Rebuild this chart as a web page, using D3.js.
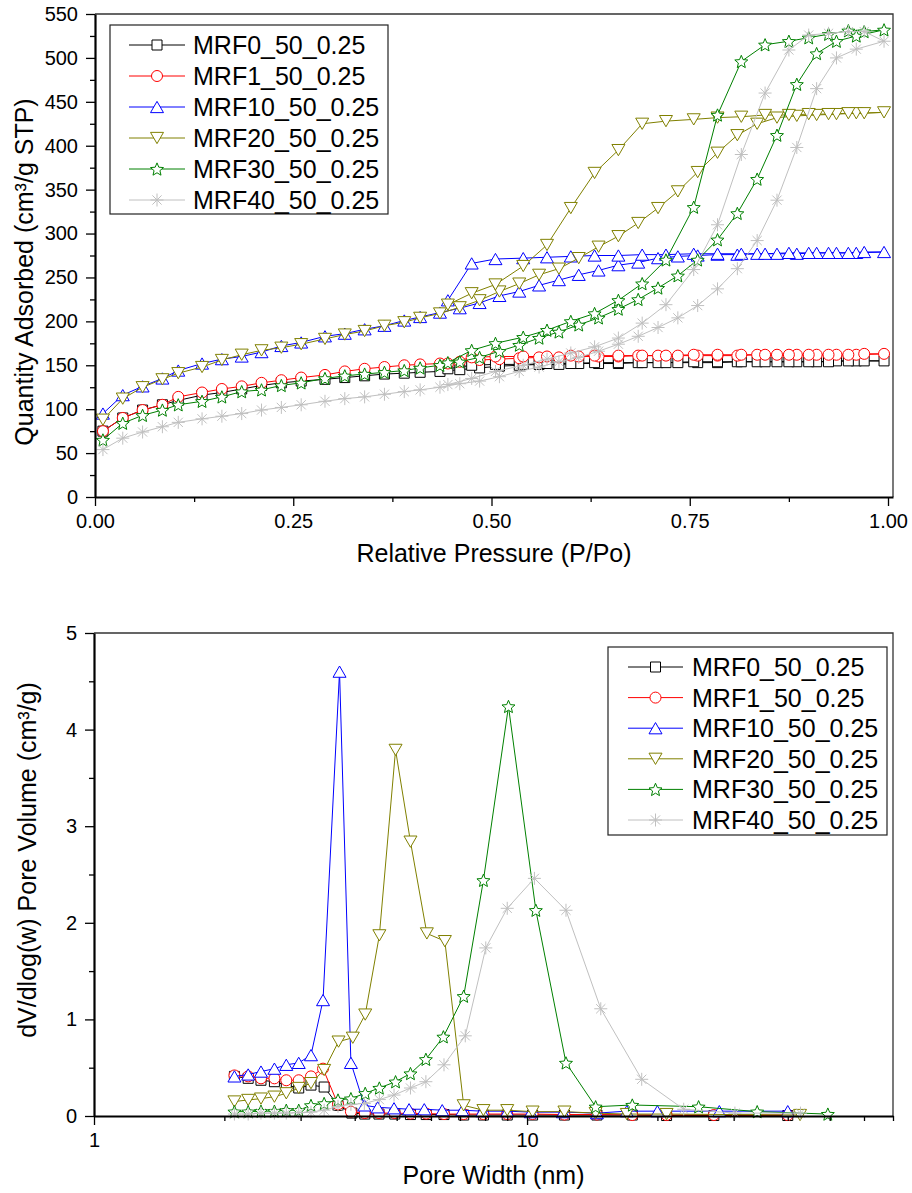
<!DOCTYPE html>
<html><head><meta charset="utf-8">
<script src="https://cdn.jsdelivr.net/npm/d3@7"></script>
<style>
body{margin:0;background:#fff}
svg{display:block}
text{font-family:"Liberation Sans",Arial,Helvetica,sans-serif;fill:#000}
</style>
</head><body>
<svg id="chart" width="912" height="1193"></svg>
<script>
// ---------- shared series info ----------
const seriesNames = ["MRF0_50_0.25","MRF1_50_0.25","MRF10_50_0.25","MRF20_50_0.25","MRF30_50_0.25","MRF40_50_0.25"];
const seriesColors = ["#000000","#ff0000","#0000ff","#808000","#008000","#c0c0c0"];
const seriesMarkers = ["square","circle","triangle","triangleDown","star","asterisk"];

// ---------- isotherm data (relative pressure, quantity adsorbed) ----------
const adsP = [0.01,0.035,0.06,0.085,0.105,0.135,0.16,0.185,0.21,0.235,0.26,0.29,0.315,0.34,0.365,0.39,0.41,0.435,0.46,0.485,0.51,0.535,0.56,0.585,0.61,0.635,0.66,0.685,0.71,0.735,0.76,0.785,0.81,0.835,0.86,0.885,0.91,0.935,0.96,0.995];
const desP = [0.97,0.95,0.925,0.90,0.875,0.845,0.815,0.785,0.755,0.72,0.69,0.66,0.63,0.60,0.57,0.54,0.505,0.475,0.445];

const mrf0Ads = [75,90,99,105,110,116,119,123,127,130,132,134,136,138,140,141,142,143,145,147,149,150,151,151,152,152,152,153,153,153,153,153,154,154,154,154,154,155,155,155];
const mrf0Des = [155,155,154,154,154,154,154,154,154,153,153,153,153,152,152,151,151,150,146];
const mrf1Ads = [75,90,99,105,114,119,123,126,130,133,136,139,143,146,148,150,151,152,154,156,157,158,159,159,160,160,160,161,161,161,161,161,161,162,162,162,162,162,162,163];
const mrf1Des = [163,162,162,162,162,162,162,162,162,161,161,161,161,161,160,160,160,159,152];
const mrf10Ads = [95,116,126,135,144,152,157,160,165,172,176,183,186,191,195,201,205,210,215,221,229,234,241,247,253,258,264,267,272,274,275,276,276,277,277,277,278,278,278,279];
const mrf10Des = [279,278,278,278,278,277,277,277,277,276,276,275,275,274,273,272,271,266,224];
const mrf20Ads = [88,112,125,134,141,148,156,162,167,170,174,180,185,189,195,199,204,209,216,224,234,243,253,260,272,285,297,312,329,348,370,392,412,425,432,434,435,436,437,438];
const mrf20Des = [437,437,436,436,435,435,433,432,430,428,425,395,369,329,287,263,242,232,219];
const mrf30Ads = [65,84,93,99,105,109,114,120,122,127,130,135,138,140,142,144,147,150,154,159,166,173,181,188,196,204,214,225,238,252,270,293,323,362,412,470,505,519,525,532];
const mrf30Des = [530,531,527,523,519,515,496,435,330,270,243,224,209,200,190,182,175,167,153];
const mrf40Ads = [54,67,74,80,85,89,92,95,99,102,105,109,112,114,117,120,122,125,129,132,137,143,148,154,159,166,174,183,193,204,218,237,260,292,338,398,465,500,510,519];
const mrf40Des = [530,530,528,526,509,460,390,310,259,219,198,181,171,164,157,150,143,135,128];

const isoXTicks = [0, 0.25, 0.5, 0.75, 1.0];
const isoXMinor = [0.125, 0.375, 0.625, 0.875];
const isoYTicks = [0,50,100,150,200,250,300,350,400,450,500,550];
const isoYMinor = [25,75,125,175,225,275,325,375,425,475,525];

// ---------- pore size distribution data (pore width nm, dV/dlog(w)) ----------
const psdW0 = [2.11,2.27,2.43,2.61,2.78,2.97,3.17,3.40,3.66,3.94,4.22,4.55,4.95,5.38,5.85,6.43,7.14,7.93,9.0,10.3,12.2,14.5,17.5,21,27,40];
const psdV0 = [0.41,0.39,0.37,0.355,0.32,0.29,0.32,0.30,0.11,0.03,0.02,0.02,0.02,0.015,0.015,0.015,0.01,0.01,0.01,0.01,0.01,0.01,0.01,0.005,0.005,0.005];
const psdW1 = [2.11,2.27,2.43,2.61,2.78,2.97,3.17,3.38,3.66,3.92,4.22,4.55,4.95,5.38,5.85,6.43,7.14,7.93,9.0,10.3,12.2,14.5,17.5,21,27,40];
const psdV1 = [0.42,0.41,0.39,0.39,0.37,0.37,0.41,0.49,0.12,0.045,0.03,0.03,0.03,0.025,0.025,0.02,0.02,0.02,0.02,0.02,0.015,0.015,0.01,0.01,0.01,0.01];
const psdW10 = [2.11,2.27,2.43,2.61,2.78,2.97,3.17,3.38,3.69,3.92,4.21,4.52,4.93,5.34,5.79,6.37,7.09,7.88,9.0,10.2,12.1,14.5,17.0,20.0,27.8,40.0];
const psdV10 = [0.41,0.43,0.46,0.49,0.53,0.55,0.63,1.20,4.60,0.55,0.11,0.09,0.08,0.07,0.07,0.06,0.06,0.05,0.05,0.04,0.04,0.03,0.05,0.05,0.05,0.05];
const psdW20 = [2.11,2.27,2.43,2.61,2.78,2.97,3.17,3.40,3.67,3.96,4.23,4.56,4.97,5.38,5.87,6.46,7.14,7.93,9.0,10.3,12.2,14.4,17.0,21.0,42.7];
const psdV20 = [0.15,0.166,0.18,0.20,0.235,0.29,0.34,0.476,0.77,0.81,1.05,1.87,3.79,2.84,1.89,1.81,0.11,0.06,0.06,0.045,0.045,0.03,0.02,0.02,0.01];
const psdW30 = [2.11,2.27,2.43,2.61,2.78,2.97,3.17,3.40,3.66,3.92,4.23,4.56,4.97,5.38,5.84,6.41,7.14,7.93,9.06,10.48,12.3,14.4,17.5,24.9,34.0,49.5];
const psdV30 = [0.045,0.045,0.05,0.05,0.06,0.06,0.11,0.13,0.166,0.18,0.235,0.29,0.355,0.44,0.587,0.82,1.24,2.44,4.24,2.13,0.55,0.096,0.114,0.096,0.045,0.02];
const psdW40 = [2.11,2.27,2.43,2.61,2.78,2.97,3.17,3.40,3.66,3.92,4.21,4.56,4.93,5.38,5.84,6.43,7.2,8.03,9.0,10.4,12.3,14.8,18.4,23.0,30.2,42.8];
const psdV40 = [0.02,0.02,0.03,0.03,0.03,0.035,0.04,0.06,0.10,0.12,0.13,0.17,0.217,0.29,0.355,0.53,0.83,1.74,2.15,2.46,2.13,1.11,0.38,0.07,0.03,0.03];

const psdXTicks = [1, 10];
const psdXMinor = [2,3,4,5,6,7,8,9,20,30,40,50,60,70];
const psdYTicks = [0,1,2,3,4,5];
const psdYMinor = [0.5,1.5,2.5,3.5,4.5];

// ---------- build series ----------
const isoAds = [mrf0Ads, mrf1Ads, mrf10Ads, mrf20Ads, mrf30Ads, mrf40Ads];
const isoDes = [mrf0Des, mrf1Des, mrf10Des, mrf20Des, mrf30Des, mrf40Des];
const isoSeries = seriesNames.map((n, i) => {
  const pts = adsP.map((p, j) => [p, isoAds[i][j]]).concat(desP.map((p, j) => [p, isoDes[i][j]]));
  return {name: n, color: seriesColors[i], marker: seriesMarkers[i], pts};
});
const psdWs = [psdW0, psdW1, psdW10, psdW20, psdW30, psdW40];
const psdVs = [psdV0, psdV1, psdV10, psdV20, psdV30, psdV40];
const psdSeries = seriesNames.map((n, i) => ({
  name: n, color: seriesColors[i], marker: seriesMarkers[i],
  pts: psdWs[i].map((w, j) => [w, psdVs[i][j]])
}));

// ---------- marker shapes ----------
const markerSize = {square: 10, circle: 11, triangle: 13, triangleDown: 13, star: 13, asterisk: 13};
function markerPath(type, s) {
  const h = s / 2;
  if (type === "square") return `M${-h},${-h}H${h}V${h}H${-h}Z`;
  if (type === "circle") return `M${h},0A${h},${h} 0 1,1 ${-h},0A${h},${h} 0 1,1 ${h},0Z`;
  if (type === "triangle") { const t = s * 0.866 / 2; return `M0,${-t}L${h},${t}L${-h},${t}Z`; }
  if (type === "triangleDown") { const t = s * 0.866 / 2; return `M0,${t}L${h},${-t}L${-h},${-t}Z`; }
  if (type === "star") {
    const R = h * 1.05, r = R * 0.45; let d = "";
    for (let k = 0; k < 10; k++) {
      const a = -Math.PI / 2 + k * Math.PI / 5, rr = k % 2 ? r : R;
      d += (k ? "L" : "M") + (rr * Math.cos(a)).toFixed(2) + "," + (rr * Math.sin(a) + R * 0.1).toFixed(2);
    }
    return d + "Z";
  }
  if (type === "asterisk") {
    let d = "";
    for (let k = 0; k < 4; k++) {
      const a = k * Math.PI / 4, c = Math.cos(a) * h, sn = Math.sin(a) * h;
      d += `M${(-c).toFixed(2)},${(-sn).toFixed(2)}L${c.toFixed(2)},${sn.toFixed(2)}`;
    }
    return d;
  }
}

const svg = d3.select("#chart");

function drawPanel(cfg) {
  const g = svg.append("g");
  const {x, y} = cfg;
  // series
  cfg.series.forEach(s => {
    const line = d3.line().x(d => x(d[0])).y(d => y(d[1]));
    g.append("path").attr("d", line(s.pts)).attr("fill", "none")
      .attr("stroke", s.color).attr("stroke-width", 1);
    g.selectAll(null).data(s.pts).enter().append("path")
      .attr("transform", d => `translate(${x(d[0])},${y(d[1])})`)
      .attr("d", markerPath(s.marker, markerSize[s.marker]))
      .attr("fill", s.marker === "asterisk" ? "none" : "#fff")
      .attr("stroke", s.color).attr("stroke-width", 1);
  });
  const [x0, x1] = x.range(), [y0, y1] = y.range();
  // frame top/right
  g.append("path").attr("d", `M${x0},${y1}H${x1}V${y0}`).attr("fill", "none")
    .attr("stroke", "#333").attr("stroke-width", 1.3);
  // minor ticks
  const xm = g.append("g").attr("transform", `translate(0,${y0})`)
    .call(d3.axisBottom(x).tickValues(cfg.xMinor).tickSize(5).tickFormat(""));
  const ym = g.append("g").attr("transform", `translate(${x0},0)`)
    .call(d3.axisLeft(y).tickValues(cfg.yMinor).tickSize(5).tickFormat(""));
  [xm, ym].forEach(a => { a.select(".domain").remove(); a.selectAll("line").attr("stroke", "#000").attr("stroke-width", 1.3); });
  // major axes
  const xa = g.append("g").attr("transform", `translate(0,${y0})`)
    .call(d3.axisBottom(x).tickValues(cfg.xTicks).tickSize(9).tickSizeOuter(0).tickPadding(cfg.xPad).tickFormat(cfg.xFmt));
  const ya = g.append("g").attr("transform", `translate(${x0},0)`)
    .call(d3.axisLeft(y).tickValues(cfg.yTicks).tickSize(9).tickSizeOuter(0).tickPadding(8).tickFormat(cfg.yFmt));
  [xa, ya].forEach(a => {
    a.select(".domain").attr("stroke", "#000").attr("stroke-width", 2.2);
    a.selectAll(".tick line").attr("stroke", "#000").attr("stroke-width", 1.3);
    a.selectAll("text").attr("font-size", 20).attr("font-family", '"Liberation Sans",Arial,sans-serif').attr("fill", "#000");
  });
  // titles
  g.append("text").attr("x", (x0 + x1) / 2).attr("y", cfg.xTitleY).attr("text-anchor", "middle")
    .attr("font-size", 25).text(cfg.xTitle);
  g.append("text").attr("transform", `translate(${cfg.yTitleX},${cfg.yTitleCY}) rotate(-90)`)
    .attr("text-anchor", "middle").attr("font-size", 25).text(cfg.yTitle);
  // legend
  const L = cfg.legend;
  g.append("rect").attr("x", L.x).attr("y", L.y).attr("width", L.w).attr("height", L.h)
    .attr("fill", "#fff").attr("stroke", "#222").attr("stroke-width", 1.2);
  cfg.series.forEach((s, i) => {
    const cy = L.y + L.first + i * L.step;
    g.append("line").attr("x1", L.lx1).attr("x2", L.lx2).attr("y1", cy).attr("y2", cy)
      .attr("stroke", s.color).attr("stroke-width", 1);
    g.append("path").attr("transform", `translate(${(L.lx1 + L.lx2) / 2},${cy})`)
      .attr("d", markerPath(s.marker, markerSize[s.marker]))
      .attr("fill", s.marker === "asterisk" ? "none" : "#fff").attr("stroke", s.color);
    g.append("text").attr("x", L.tx).attr("y", cy + 9).attr("font-size", 25).text(s.name);
  });
}

// top panel: isotherms
drawPanel({
  series: isoSeries,
  x: d3.scaleLinear().domain([0, 1.0063]).range([95, 893]),
  y: d3.scaleLinear().domain([0, 550]).range([497, 14]),
  xTicks: isoXTicks, xMinor: isoXMinor, yTicks: isoYTicks, yMinor: isoYMinor,
  xFmt: d3.format(".2f"), yFmt: d3.format("d"), xPad: 8,
  xTitle: "Relative Pressure (P/Po)", xTitleY: 562,
  yTitle: "Quantity Adsorbed (cm³/g STP)", yTitleX: 33, yTitleCY: 272,
  legend: {x: 110, y: 25, w: 278, h: 189, first: 20, step: 31, lx1: 129, lx2: 185, tx: 193}
});

// bottom panel: pore size distribution
drawPanel({
  series: psdSeries,
  x: d3.scaleLog().domain([1, 70]).range([94, 893]),
  y: d3.scaleLinear().domain([0, 5]).range([1116, 633]),
  xTicks: psdXTicks, xMinor: psdXMinor, yTicks: psdYTicks, yMinor: psdYMinor,
  xFmt: d3.format("d"), yFmt: d3.format("d"), xPad: 8,
  xTitle: "Pore Width (nm)", xTitleY: 1184,
  yTitle: "dV/dlog(w) Pore Volume (cm³/g)", yTitleX: 36, yTitleCY: 860,
  legend: {x: 608, y: 647, w: 279, h: 188, first: 20, step: 30.6, lx1: 628, lx2: 683, tx: 692}
});
</script>
</body></html>
